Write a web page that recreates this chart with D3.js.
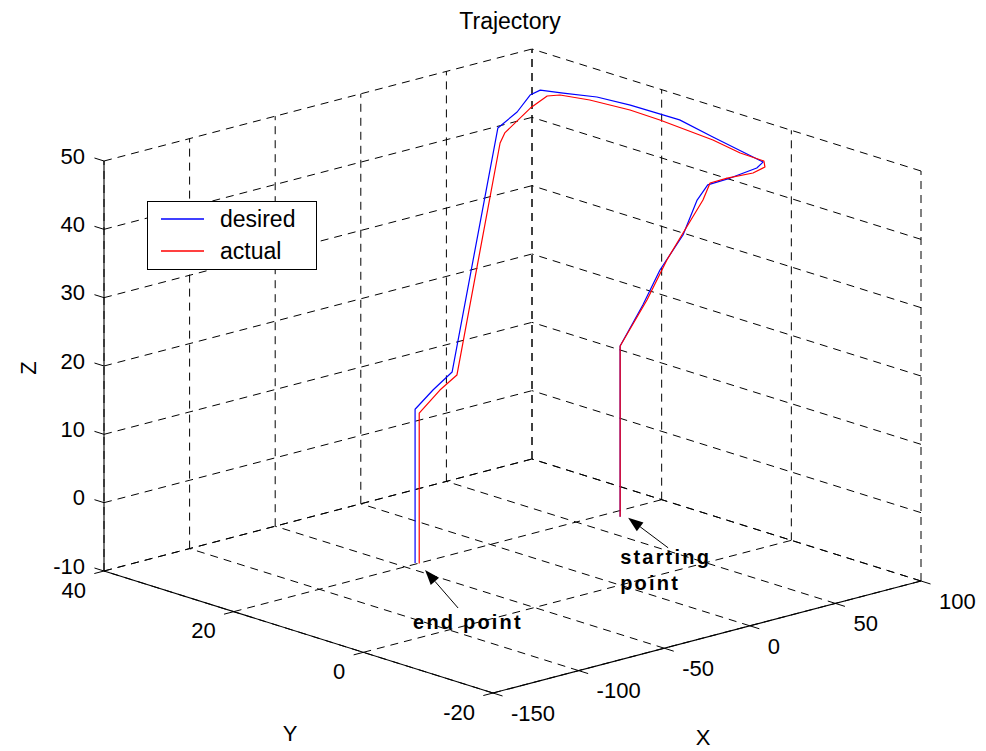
<!DOCTYPE html>
<html><head><meta charset="utf-8">
<script src="https://cdn.jsdelivr.net/npm/d3@7"></script>
<style>body{margin:0;background:#fff} text{font-family:"Liberation Sans",Arial,Helvetica,sans-serif;fill:#000}</style>
</head><body>
<svg id="c" width="986" height="751"></svg>
<script>
// ---- data ----
const xTicks = [-150, -100, -50, 0, 50, 100];
const yTicks = [-20, 0, 20, 40];
const zTicks = [-10, 0, 10, 20, 30, 40, 50];

const desiredX = [0, 0, 19.7, 35.0, 51.5, 65.8, 73.5, 77.2, 85.5, 86.5, 85.6, 88.9, 81.3, 75.4, 65.2, 60.9, 56.1, 41.7, 26.3, -100.8, -107.8, -112.2, -112.2];
const desiredY = [0, 0, 1.7, 3.1, 3.9, 5.5, 5.9, 3.4, 1.5, 0.8, 8.3, 14.3, 19.9, 23.5, 26.0, 28.4, 28.7, 26.9, 25.8, -0.7, 0.4, 2.0, 2.0];
const desiredZ = [0, 25, 29.2, 32.9, 36.7, 40.4, 42, 43.5, 45, 46, 47.5, 48, 49, 49.5, 50, 50, 49.5, 48.5, 47.5, 28, 25.5, 22.5, 0];

const actualX = [0, 0, 24.0, 43.2, 53.6, 67.7, 76.2, 76.2, 79.2, 82.1, 85.8, 81.5, 82.6, 80.4, 76.2, 70.1, 62.2, 58.5, 46.4, 23.5, 16.6, -102.3, -105.6, -111.3, -111.3];
const actualY = [0, 0, 2.2, 4.2, 4.45, 5.1, 6.25, 3.6, 0.42, -0.66, 0.48, 3.0, 7.5, 15.1, 18.6, 23.2, 25.7, 26.7, 26.1, 24.0, 22.9, -1.84, -0.09, 1.6, 1.6];
const actualZ = [0, 25, 29.5, 33.5, 36.7, 40.4, 42, 43.5, 45, 46, 46.3, 47, 47.5, 48.3, 49, 49.5, 50, 49.8, 49, 47.5, 46.8, 28, 25.5, 22, 0];

const seriesNames = ["desired", "actual"];
const seriesColors = ["#0000ff", "#ff0000"];
const titleText = "Trajectory";
const axisNames = ["X", "Y", "Z"];
const startLabel = ["starting", "point"];
const endLabel = "end point";

// ---- layout ----
const svg = d3.select("#c");
svg.append("rect").attr("width", 986).attr("height", 751).attr("fill", "#fff");

const sx = d3.scaleLinear().domain([-150, 100]).range([0, 1]);
const sy = d3.scaleLinear().domain([-20, 40]).range([0, 1]);
const sz = d3.scaleLinear().domain([-10, 50]).range([0, 1]);
const O = [493, 693], UX = [428, -112], UY = [-389, -122], UZ = [0, -410];
function proj(x, y, z) {
  const a = sx(x), b = sy(y), c = sz(z);
  return [O[0] + a * UX[0] + b * UY[0] + c * UZ[0], O[1] + a * UX[1] + b * UY[1] + c * UZ[1]];
}
const [x0, x1] = sx.domain(), [y0, y1] = sy.domain(), [z0, z1] = sz.domain();

// grid lines on back planes
const grid = [];
xTicks.forEach(x => { grid.push([[x, y0, z0], [x, y1, z0]]); grid.push([[x, y1, z0], [x, y1, z1]]); });
yTicks.forEach(y => { grid.push([[x0, y, z0], [x1, y, z0]]); grid.push([[x1, y, z0], [x1, y, z1]]); });
zTicks.forEach(z => { grid.push([[x0, y1, z], [x1, y1, z]]); grid.push([[x1, y0, z], [x1, y1, z]]); });

const gG = svg.append("g");
grid.forEach(s => {
  const p = proj(...s[0]), q = proj(...s[1]);
  gG.append("line").attr("x1", p[0]).attr("y1", p[1]).attr("x2", q[0]).attr("y2", q[1])
    .attr("stroke", "#000").attr("stroke-width", 1).attr("stroke-dasharray", "8,6");
});

// axes lines
const axes = [[[x0, y1, z0], [x0, y1, z1]], [[x0, y0, z0], [x0, y1, z0]], [[x0, y0, z0], [x1, y0, z0]]];
axes.forEach(s => {
  const p = proj(...s[0]), q = proj(...s[1]);
  svg.append("line").attr("x1", p[0]).attr("y1", p[1]).attr("x2", q[0]).attr("y2", q[1])
    .attr("stroke", "#000").attr("stroke-width", 1.1);
});

function unit(v) { const n = Math.hypot(v[0], v[1]); return [v[0] / n, v[1] / n]; }
const dX = unit(UX), dY = unit(UY);
const TL = 10, FS = 22;

function tick(p, d) {
  svg.append("line").attr("x1", p[0]).attr("y1", p[1]).attr("x2", p[0] + d[0] * TL).attr("y2", p[1] + d[1] * TL)
    .attr("stroke", "#000").attr("stroke-width", 1);
}
// Z ticks
zTicks.forEach(z => {
  const p = proj(x0, y1, z);
  tick(p, dY);
  svg.append("text").attr("x", p[0] - 19).attr("y", p[1] - 5).attr("dy", "0.35em")
    .attr("text-anchor", "end").attr("font-size", FS).text(z);
});
// Y ticks
yTicks.forEach(y => {
  const p = proj(x0, y, z0);
  tick(p, [-dX[0], -dX[1]]);
  svg.append("text").attr("x", p[0] - 18).attr("y", p[1] + 19).attr("dy", "0.35em")
    .attr("text-anchor", "end").attr("font-size", FS).text(y);
});
// X ticks
xTicks.forEach(x => {
  const p = proj(x, y0, z0);
  tick(p, [-dY[0], -dY[1]]);
  svg.append("text").attr("x", p[0] + 18).attr("y", p[1] + 20).attr("dy", "0.35em")
    .attr("text-anchor", "start").attr("font-size", FS).text(x);
});

// axis labels
svg.append("text").attr("x", 703).attr("y", 737).attr("dy", "0.35em").attr("text-anchor", "middle").attr("font-size", FS).text(axisNames[0]);
svg.append("text").attr("x", 290).attr("y", 733).attr("dy", "0.35em").attr("text-anchor", "middle").attr("font-size", FS).text(axisNames[1]);
svg.append("text").attr("transform", "translate(28,368) rotate(-90)").attr("dy", "0.35em").attr("text-anchor", "middle").attr("font-size", FS).text(axisNames[2]);

// title
svg.append("text").attr("x", 510).attr("y", 21).attr("dy", "0.35em").attr("text-anchor", "middle").attr("font-size", 23).text(titleText);

// trajectories
const line = d3.line().x(d => d[0]).y(d => d[1]);
const series = [
  desiredX.map((x, i) => proj(x, desiredY[i], desiredZ[i])),
  actualX.map((x, i) => proj(x, actualY[i], actualZ[i]))
];
series.forEach((pts, i) => {
  svg.append("path").attr("d", line(pts)).attr("fill", "none")
    .attr("stroke", seriesColors[i]).attr("stroke-width", 1.2).attr("stroke-linejoin", "round");
});

// legend
const lg = svg.append("g");
lg.append("rect").attr("x", 147.5).attr("y", 201.5).attr("width", 169).attr("height", 68)
  .attr("fill", "#fff").attr("stroke", "#000").attr("stroke-width", 1);
seriesNames.forEach((n, i) => {
  const yy = 219 + i * 32;
  lg.append("line").attr("x1", 161).attr("x2", 204).attr("y1", yy).attr("y2", yy)
    .attr("stroke", seriesColors[i]).attr("stroke-width", 1.6);
  lg.append("text").attr("x", 220).attr("y", yy).attr("dy", "0.35em").attr("font-size", 23).text(n);
});

// annotations
function arrow(tail, tip) {
  const d = unit([tip[0] - tail[0], tip[1] - tail[1]]);
  const L = 15, w = 5.5;
  const b = [tip[0] - d[0] * L, tip[1] - d[1] * L];
  svg.append("line").attr("x1", tail[0]).attr("y1", tail[1]).attr("x2", b[0]).attr("y2", b[1])
    .attr("stroke", "#000").attr("stroke-width", 1);
  svg.append("path").attr("d", `M${tip[0]},${tip[1]}L${b[0] - d[1] * w},${b[1] + d[0] * w}L${b[0] + d[1] * w},${b[1] - d[0] * w}Z`)
    .attr("fill", "#000");
}
const sP = proj(desiredX[0], desiredY[0], desiredZ[0]);
const eP = proj(desiredX[desiredX.length - 1], desiredY[desiredY.length - 1], desiredZ[desiredZ.length - 1]);
arrow([sP[0] + 48, sP[1] + 31], [sP[0] + 8, sP[1] + 1]);
arrow([eP[0] + 43, eP[1] + 45], [eP[0] + 10, eP[1] + 7]);
const st = svg.append("text").attr("font-size", 20).attr("font-weight", "bold").attr("letter-spacing", 2.2);
st.append("tspan").attr("x", sP[0]).attr("y", sP[1] + 47).text(startLabel[0]);
st.append("tspan").attr("x", sP[0]).attr("y", sP[1] + 73).text(startLabel[1]);
svg.append("text").attr("x", eP[0] - 2).attr("y", eP[1] + 66).attr("font-size", 20).attr("font-weight", "bold")
  .attr("letter-spacing", 2.2).text(endLabel);
</script>
</body></html>
